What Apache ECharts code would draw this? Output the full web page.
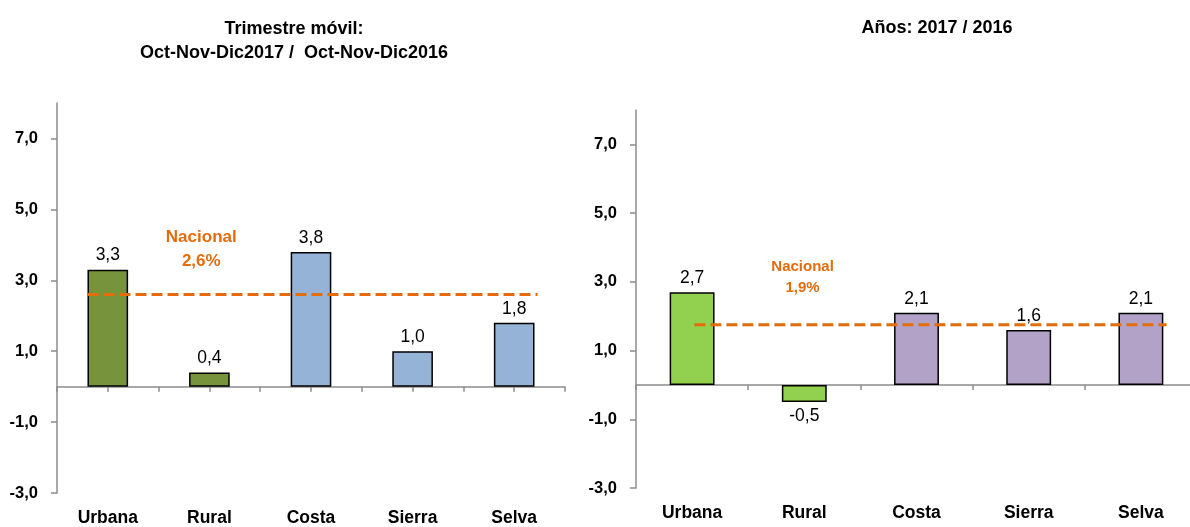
<!DOCTYPE html>
<html lang="es">
<head>
<meta charset="UTF-8">
<title>Variación por área y región natural</title>
<script src="https://cdn.jsdelivr.net/npm/echarts@6/dist/echarts.min.js"></script>
<style>
  html, body { margin: 0; padding: 0; background: #fff; }
  #chart { width: 1190px; height: 527px; }
</style>
</head>
<body>
<div id="chart"></div>
<script>
// datos
var categories = ['Urbana', 'Rural', 'Costa', 'Sierra', 'Selva'];
var trimestreValues = [3.3, 0.4, 3.8, 1.0, 1.8];
var anualValues = [2.7, -0.5, 2.1, 1.6, 2.1];
var nacionalTrimestre = 2.6;   // nivel de la linea y texto
var nacionalAnualText = 1.9;   // texto del grafico derecho
var nacionalAnualLine = 1.75;  // nivel dibujado de la linea
var yTicks = [-3, -1, 1, 3, 5, 7];

var FONT = "'Liberation Sans', Arial, sans-serif";
var ORANGE = '#E46C0A';
var AXIS_GRAY = '#8c8c8c';

function fmt(v) {
  return v.toFixed(1).replace('.', ',');
}

function barData(values, c1, c2) {
  return values.map(function (v, i) {
    return {
      value: v,
      itemStyle: { color: i < 2 ? c1 : c2 },
      label: { position: v < 0 ? 'bottom' : 'top' }
    };
  });
}

function yAxisFor(grid) {
  return {
    type: 'value', gridIndex: grid, min: -3, max: 8,
    axisLine: { show: true, lineStyle: { color: AXIS_GRAY, width: 1.5 } },
    axisTick: { show: true, length: 6, customValues: yTicks, lineStyle: { color: AXIS_GRAY, width: 1.5 } },
    axisLabel: {
      customValues: yTicks, margin: 19,
      fontFamily: FONT, fontSize: 16.5, fontWeight: 'bold', color: '#000',
      formatter: function (v) { return fmt(v); }
    },
    splitLine: { show: false }
  };
}

var catLabel = { margin: 16, interval: 0, fontFamily: FONT, fontSize: 17.5, fontWeight: 'bold', color: '#000' };

var chart = echarts.init(document.getElementById('chart'));

var option = {
  animation: false,
  title: [
    {
      text: 'Trimestre móvil:\nOct-Nov-Dic2017 /  Oct-Nov-Dic2016',
      left: 289, top: 12, textAlign: 'center',
      textStyle: { fontFamily: FONT, fontSize: 18, fontWeight: 'bold', color: '#000', lineHeight: 24, align: 'center' }
    },
    {
      text: 'Años: 2017 / 2016',
      left: 932, top: 9, textAlign: 'center',
      textStyle: { fontFamily: FONT, fontSize: 18, fontWeight: 'bold', color: '#000', lineHeight: 29 }
    }
  ],
  grid: [
    { left: 57, width: 508, top: 103, bottom: 34, outerBoundsMode: 'none' },
    { left: 636, width: 561, top: 110, bottom: 39, outerBoundsMode: 'none' }
  ],
  xAxis: [
    // izquierda: linea en cero con marcas en los limites
    { type: 'category', gridIndex: 0, data: categories, position: 'bottom',
      axisLine: { onZero: true, onZeroAxisIndex: 0, lineStyle: { color: AXIS_GRAY, width: 1.5 } },
      axisTick: { show: true, length: 5, interval: 0, lineStyle: { color: AXIS_GRAY, width: 1.5 } },
      axisLabel: { show: false } },
    // izquierda: marcas al centro
    { type: 'category', gridIndex: 0, data: categories, position: 'bottom',
      axisLine: { show: true, onZero: true, onZeroAxisIndex: 0, lineStyle: { opacity: 0 } },
      axisTick: { show: true, length: 5, alignWithLabel: true, interval: 0, lineStyle: { color: AXIS_GRAY, width: 1.5 } },
      axisLabel: { show: false } },
    // izquierda: etiquetas abajo
    { type: 'category', gridIndex: 0, data: categories, position: 'bottom',
      axisLine: { show: false, onZero: false }, axisTick: { show: false },
      axisLabel: catLabel },
    // izquierda: eje de valores oculto para la linea nacional
    { type: 'value', gridIndex: 0, min: 0, max: 5, show: false },
    // derecha
    { type: 'category', gridIndex: 1, data: categories, position: 'bottom',
      axisLine: { onZero: true, lineStyle: { color: AXIS_GRAY, width: 1.5 } },
      axisTick: { show: true, length: 5, interval: 0, lineStyle: { color: AXIS_GRAY, width: 1.5 } },
      axisLabel: { show: false } },
    { type: 'category', gridIndex: 1, data: categories, position: 'bottom',
      axisLine: { show: false, onZero: false }, axisTick: { show: false },
      axisLabel: catLabel },
    { type: 'value', gridIndex: 1, min: 0, max: 5, show: false }
  ],
  yAxis: [yAxisFor(0), yAxisFor(1)],
  series: [
    {
      name: 'Trimestre', type: 'bar', xAxisIndex: 0, yAxisIndex: 0, barWidth: '40%',
      data: barData(trimestreValues, '#77933C', '#95B3D7'),
      itemStyle: { borderColor: '#000', borderWidth: 1.5 },
      label: { show: true, distance: 5, fontFamily: FONT, fontSize: 17.5, color: '#000',
        formatter: function (p) { return fmt(p.value); } }
    },
    {
      name: 'Nacional trimestre', type: 'line', xAxisIndex: 3, yAxisIndex: 0,
      data: [[0.3, nacionalTrimestre], [4.73, nacionalTrimestre]],
      symbol: 'none', silent: true,
      lineStyle: { color: ORANGE, width: 3, type: [11, 5] }
    },
    {
      name: 'Nacional trimestre texto', type: 'scatter', xAxisIndex: 3, yAxisIndex: 0,
      data: [[1.42, 3.86]], symbolSize: 0, silent: true, itemStyle: { opacity: 1 },
      label: { show: true, position: 'inside', fontFamily: FONT, fontSize: 17, fontWeight: 'bold',
        color: ORANGE, lineHeight: 24, align: 'center',
        formatter: function () { return 'Nacional\n' + fmt(nacionalTrimestre) + '%'; } }
    },
    {
      name: 'Anual', type: 'bar', xAxisIndex: 4, yAxisIndex: 1, barWidth: '40%',
      data: barData(anualValues, '#92D050', '#B3A2C7'),
      itemStyle: { borderColor: '#000', borderWidth: 1.5 },
      label: { show: true, distance: 5, fontFamily: FONT, fontSize: 17.5, color: '#000',
        formatter: function (p) { return fmt(p.value); } }
    },
    {
      name: 'Nacional anual', type: 'line', xAxisIndex: 6, yAxisIndex: 1,
      data: [[0.52, nacionalAnualLine], [4.73, nacionalAnualLine]],
      symbol: 'none', silent: true,
      lineStyle: { color: ORANGE, width: 3, type: [11, 5] }
    },
    {
      name: 'Nacional anual texto', type: 'scatter', xAxisIndex: 6, yAxisIndex: 1,
      data: [[1.485, 3.12]], symbolSize: 0, silent: true, itemStyle: { opacity: 1 },
      label: { show: true, position: 'inside', fontFamily: FONT, fontSize: 15, fontWeight: 'bold',
        color: ORANGE, lineHeight: 21, align: 'center',
        formatter: function () { return 'Nacional\n' + fmt(nacionalAnualText) + '%'; } }
    }
  ]
};

chart.setOption(option);
</script>
</body>
</html>
